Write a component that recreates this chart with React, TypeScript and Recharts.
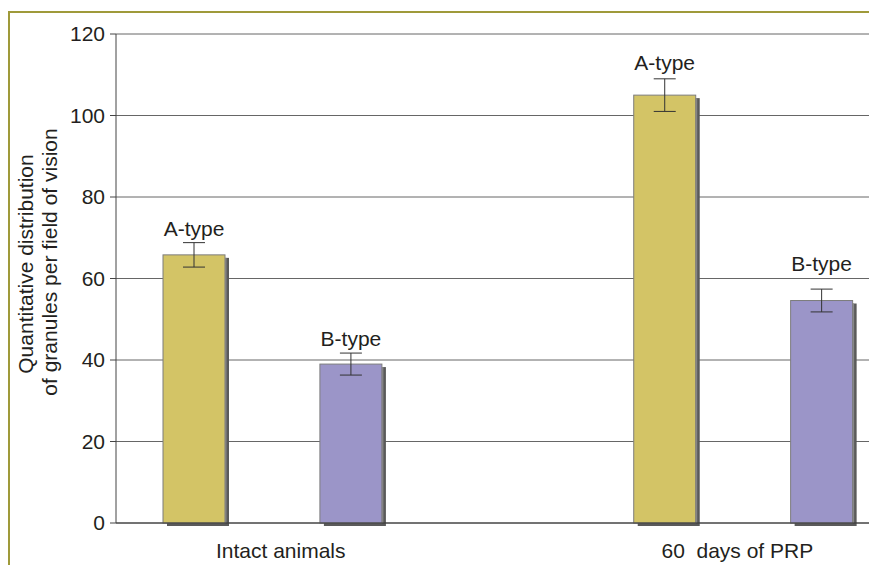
import React from 'react';
import { BarChart, Bar, XAxis, YAxis, CartesianGrid, ErrorBar, LabelList } from 'recharts';

const categories = ['Intact animals', '60  days of PRP'];
const groupTicks = [1.55, 4.46];
const barSlots = [1, 2, 4, 5];
const barTypes = ['A-type', 'B-type', 'A-type', 'B-type'];
const values = [65.8, 39.0, 105.0, 54.6];
const errors = [3.0, 2.7, 4.0, 2.8];
const yTicks = [0, 20, 40, 60, 80, 100, 120];

const labelLift = [7, 7, 9, 18];

const typeColors: Record<string, string> = { 'A-type': '#d3c466', 'B-type': '#9b95c8' };

const data = barSlots.map((x, i) => ({ x, value: values[i], err: errors[i], type: barTypes[i] }));

const FONT = '"Liberation Sans", Arial, Helvetica, sans-serif';
const FS = 21;

const ShadowBar = (props: any) => {
  const { x, y, width, height, payload } = props;
  if (width == null || height == null) return null;
  const fill = typeColors[payload?.type] || '#ccc';
  return (
    <g>
      <rect x={x + 4} y={y + 3} width={width} height={height} fill="#5a5a5a" />
      <rect x={x + width} y={y + 3} width={1.5} height={height - 3} fill="#8a8a8a" />
      <rect x={x} y={y} width={width} height={height} fill={fill} stroke="#7d7d7d" strokeWidth={1} />
    </g>
  );
};

const renderLabel = (props: any) => {
  const { x, y, width, height, value, index } = props;
  const v = values[index];
  const e = errors[index];
  const errPx = v ? (height / v) * e : 0;
  return (
    <text x={x + width / 2} y={y - errPx - labelLift[index]} textAnchor="middle" fontSize={FS} fill="#231f20" fontFamily={FONT}>
      {value}
    </text>
  );
};

const GroupTick = (props: any) => {
  const { x, y, payload } = props;
  const idx = groupTicks.indexOf(payload.value);
  return (
    <text x={x} y={y} dy="0.71em" textAnchor="middle" fontSize={FS} fill="#231f20" fontFamily={FONT} style={{ whiteSpace: 'pre' }}>
      {categories[idx]}
    </text>
  );
};

export default function App() {
  return (
    <div style={{ position: 'relative', width: 869, height: 557, overflow: 'hidden', background: '#fff' }}>
      <BarChart width={869} height={557} data={data} margin={{ top: 26, right: 0, left: 48, bottom: 12 }}>
        <CartesianGrid vertical={false} stroke="#666" strokeWidth={1} />
        <XAxis
          type="number"
          dataKey="x"
          domain={[0.5, 5.35]}
          allowDataOverflow
          ticks={groupTicks}
          tick={<GroupTick />}
          tickLine={false}
          tickSize={0}
          tickMargin={20}
          height={30}
          axisLine={{ stroke: '#333', strokeWidth: 1 }}
          interval={0}
        />
        <YAxis
          domain={[0, 120]}
          ticks={yTicks}
          width={60}
          tickSize={6}
          tickMargin={5}
          axisLine={{ stroke: '#444', strokeWidth: 1 }}
          tickLine={{ stroke: '#444', strokeWidth: 1 }}
          tick={{ fontSize: FS, fill: '#231f20', fontFamily: FONT }}
          interval={0}
        />
        <Bar dataKey="value" barSize={62} shape={ShadowBar} isAnimationActive={false}>
          <ErrorBar dataKey="err" width={11} stroke="#333" strokeWidth={1} direction="y" />
          <LabelList dataKey="type" content={renderLabel} />
        </Bar>
      </BarChart>
      <svg width={869} height={557} style={{ position: 'absolute', left: 0, top: 0, pointerEvents: 'none' }}>
        <line x1={0} y1={4} x2={869} y2={4} stroke="#9f9a3a" strokeWidth={2} />
        <line x1={1} y1={3} x2={1} y2={557} stroke="#9f9a3a" strokeWidth={2} />
        <text x={25} y={256} transform="rotate(-90, 25, 256)" textAnchor="middle" fontSize={FS} fill="#231f20" fontFamily={FONT}>
          Quantitative distribution
        </text>
        <text x={49} y={254} transform="rotate(-90, 49, 254)" textAnchor="middle" fontSize={FS} fill="#231f20" fontFamily={FONT}>
          of granules per field of vision
        </text>
      </svg>
    </div>
  );
}
